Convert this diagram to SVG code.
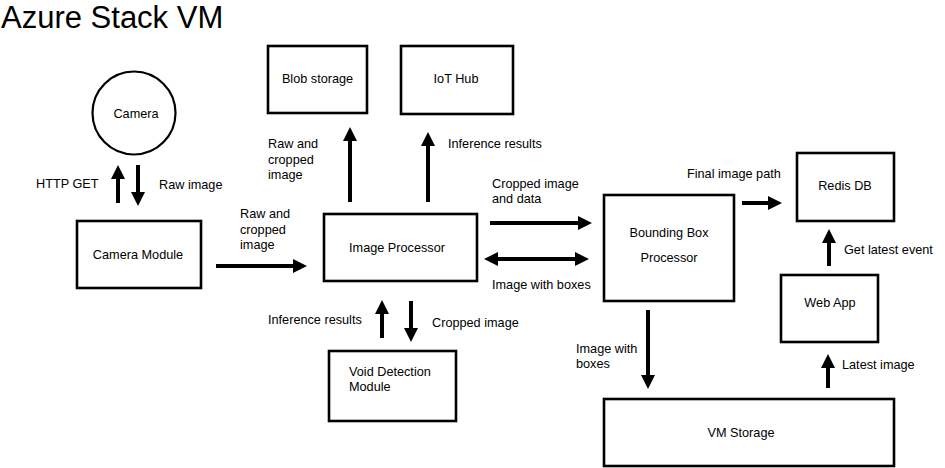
<svg xmlns="http://www.w3.org/2000/svg" width="945" height="468" viewBox="0 0 945 468">
<style>
text{font-family:"Liberation Sans",Arial,sans-serif;font-size:12.7px;fill:#000}
.c{text-anchor:middle}
.box{fill:#fff;stroke:#000;stroke-width:2.6}
.ar{fill:none;stroke:#000;stroke-width:4;marker-end:url(#ah)}
.dbl{marker-start:url(#ah)}
</style>
<defs>
<marker id="ah" markerUnits="userSpaceOnUse" markerWidth="14" markerHeight="14" viewBox="0 0 14 14" refX="9" refY="7" orient="auto-start-reverse">
<path d="M0,0 L14,7 L0,14 z" fill="#000"/>
</marker>
</defs>
<rect width="945" height="468" fill="#fff"/>
<text x="1" y="28" style="font-size:31px">Azure Stack VM</text>

<g id="camera"><circle cx="134" cy="113" r="41.5" fill="#fff" stroke="#000" stroke-width="2.2"/><text class="c" x="136" y="118">Camera</text></g>
<g id="camera-module"><rect class="box" x="77" y="221" width="124" height="67"/><text class="c" x="138" y="259">Camera Module</text></g>
<g id="blob-storage"><rect class="box" x="268" y="46" width="99" height="67"/><text class="c" x="317.5" y="83">Blob storage</text></g>
<g id="iot-hub"><rect class="box" x="401" y="46" width="112" height="68"/><text class="c" x="456" y="83">IoT Hub</text></g>
<g id="image-processor"><rect class="box" x="324" y="214" width="153" height="67"/><text class="c" x="397" y="252">Image Processor</text></g>
<g id="void-detection"><rect class="box" x="329" y="351" width="127" height="70"/><text x="349" y="376">Void Detection</text><text x="349" y="391">Module</text></g>
<g id="bounding-box"><rect class="box" x="604" y="195" width="130" height="106"/><text class="c" x="669" y="237">Bounding Box</text><text class="c" x="669" y="262">Processor</text></g>
<g id="redis-db"><rect class="box" x="797" y="153" width="97" height="68"/><text class="c" x="845" y="190">Redis DB</text></g>
<g id="web-app"><rect class="box" x="781" y="275" width="97" height="67"/><text class="c" x="830" y="307">Web App</text></g>
<g id="vm-storage"><rect class="box" x="604" y="399" width="290" height="67"/><text class="c" x="741" y="437">VM Storage</text></g>

<g id="connectors">
<line class="ar" x1="118" y1="203" x2="118" y2="170"/>
<line class="ar" x1="138" y1="165" x2="138" y2="201"/>
<line class="ar" x1="216" y1="266" x2="302" y2="266"/>
<line class="ar" x1="350" y1="202" x2="350" y2="132"/>
<line class="ar" x1="428" y1="202" x2="428" y2="137"/>
<line class="ar" x1="490" y1="223" x2="587" y2="223"/>
<line class="ar dbl" x1="489" y1="259" x2="584" y2="259"/>
<line class="ar" x1="382" y1="338" x2="382" y2="305"/>
<line class="ar" x1="411" y1="301" x2="411" y2="337"/>
<line class="ar" x1="742" y1="203" x2="777" y2="203"/>
<line class="ar" x1="829" y1="266" x2="829" y2="234"/>
<line class="ar" x1="648" y1="310" x2="648" y2="384"/>
<line class="ar" x1="828" y1="388" x2="828" y2="359"/>
<text x="36" y="188">HTTP GET</text>
<text x="159" y="189">Raw image</text>
<text x="240" y="218">Raw and</text><text x="240" y="233.5">cropped</text><text x="240" y="249">image</text>
<text x="268" y="148">Raw and</text><text x="268" y="163.5">cropped</text><text x="268" y="179">image</text>
<text x="448" y="148">Inference results</text>
<text x="492" y="188">Cropped image</text><text x="492" y="203">and data</text>
<text x="492" y="289">Image with boxes</text>
<text x="268" y="324">Inference results</text>
<text x="432" y="327">Cropped image</text>
<text x="687" y="178">Final image path</text>
<text x="844" y="254">Get latest event</text>
<text x="576" y="353">Image with</text><text x="576" y="368">boxes</text>
<text x="842" y="369">Latest image</text>
</g>
</svg>
